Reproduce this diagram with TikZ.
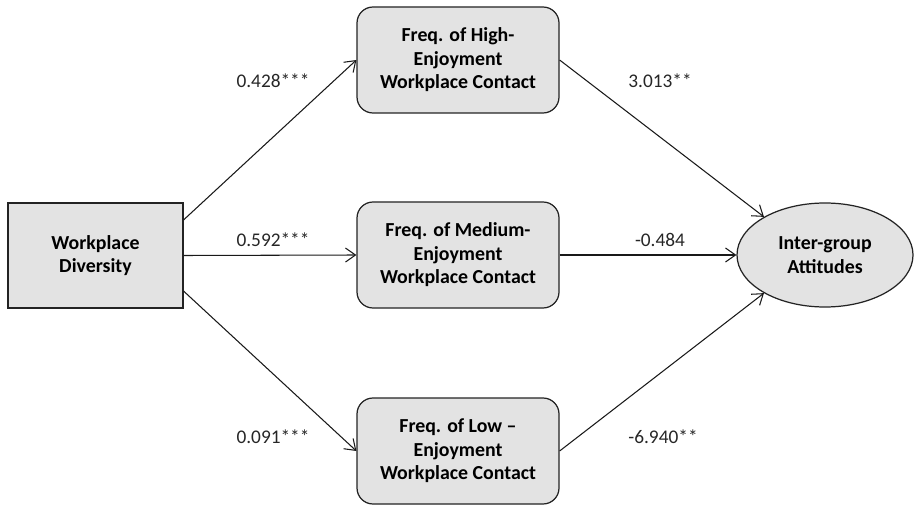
\documentclass[tikz,border=0pt]{standalone}
\usepackage{fontspec}
\setmainfont{Carlito}
\usepackage{xcolor}
\usepackage{tikz}
\usetikzlibrary{arrows.meta, positioning, shapes.geometric}

\definecolor{boxfill}{RGB}{227,227,227}
\definecolor{boxline}{RGB}{35,35,35}

\begin{document}
\begin{tikzpicture}[
  var/.style={draw=boxline, line width=0.7pt, fill=boxfill, align=center,
    font=\fontsize{11.3}{13.4}\selectfont\bfseries, inner sep=0pt},
  med/.style={var, rounded corners=0.32cm, minimum width=4.04cm, minimum height=2.12cm},
  path/.style={-{Straight Barb[length=2mm, width=2.8mm]}, line width=0.6pt, black!90},
  coef/.style={font=\fontsize{11}{12}\selectfont, text=black!85}
]
  \useasboundingbox (0,0) rectangle (18.28,10.10);
  % predictor, mediators, outcome
  \node[var, minimum width=3.5cm, minimum height=2.1cm] (wd) at (1.91,4.99) {Workplace\\Diversity};
  \node[med] (high) at (9.16,8.90) {Freq. of High-\\Enjoyment\\Workplace Contact};
  \node[med] (medium) at (9.16,5.00) {Freq. of Medium-\\Enjoyment\\Workplace Contact};
  \node[med] (low) at (9.16,1.08) {Freq. of Low --\\Enjoyment\\Workplace Contact};
  \node[var, ellipse, minimum width=3.52cm, minimum height=2.08cm] (ig) at (16.50,5.00) {Inter-group\\Attitudes};
  % a paths
  \draw[path] (wd.22) -- (high.west);
  \draw[path] (wd.east) -- (medium.west);
  \draw[path] (wd.-22) -- (low.west);
  % b paths
  \draw[path] (high.east) -- (ig.148);
  \draw[path] (medium.east) -- (ig.west);
  \draw[path] (low.east) -- (ig.212);
  % coefficients
  \node[coef] (c1) at (5.46,8.48) {0.428***};
  \node[coef] (c2) at (5.46,5.30) {0.592***};
  \node[coef] (c3) at (5.46,1.36) {0.091***};
  \node[coef] (c4) at (13.20,8.48) {3.013**};
  \node[coef] (c5) at (13.20,5.30) {-0.484};
  \node[coef] (c6) at (13.26,1.36) {-6.940**};
\end{tikzpicture}
\end{document}
